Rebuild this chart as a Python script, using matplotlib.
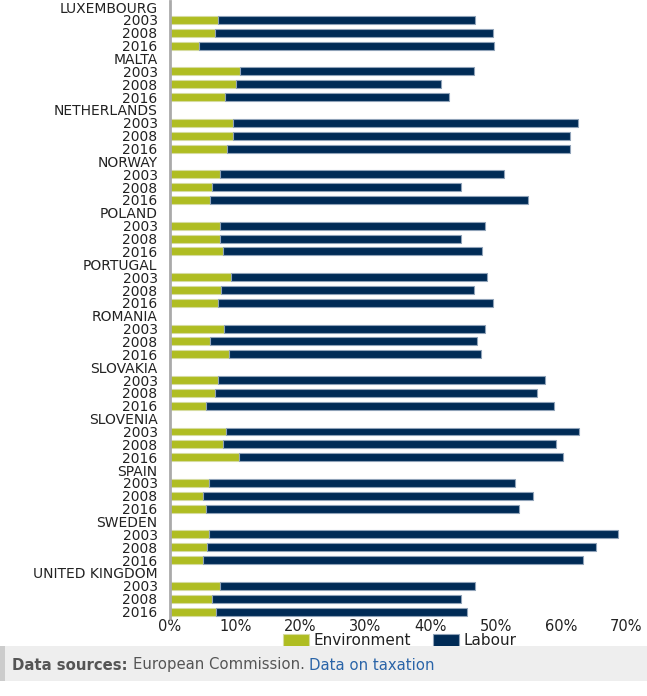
import numpy as np
import matplotlib
matplotlib.use("Agg")
from matplotlib import pyplot as plt
from matplotlib.patches import Rectangle

countries = ['LUXEMBOURG', 'MALTA', 'NETHERLANDS', 'NORWAY', 'POLAND', 'PORTUGAL',
             'ROMANIA', 'SLOVAKIA', 'SLOVENIA', 'SPAIN', 'SWEDEN', 'UNITED KINGDOM']
years = ['2003', '2008', '2016']

# environment share (%) per country, per year
environment = [
    [7.3, 6.9, 4.5],
    [10.8, 10.2, 8.5],
    [9.6, 9.6, 8.7],
    [7.6, 6.4, 6.2],
    [7.6, 7.6, 8.1],
    [9.4, 7.8, 7.4],
    [8.3, 6.2, 9.0],
    [7.3, 6.9, 5.5],
    [8.6, 8.1, 10.6],
    [6.0, 5.0, 5.5],
    [6.0, 5.7, 5.0],
    [7.6, 6.4, 7.1],
]
# total (environment + labour)
total = [
    [46.8, 49.6, 49.8],
    [46.6, 41.6, 42.8],
    [62.6, 61.4, 61.4],
    [51.3, 44.6, 55.0],
    [48.4, 44.6, 47.9],
    [48.6, 46.6, 49.6],
    [48.4, 47.2, 47.7],
    [57.6, 56.4, 59.0],
    [62.8, 59.2, 60.4],
    [52.9, 55.8, 53.6],
    [68.7, 65.4, 63.4],
    [46.8, 44.7, 45.6],
]
labour = (np.array(total) - np.array(environment)).tolist()

env_col = '#afbd22'
lab_col = '#002b56'
txt_col = '#222222'

# build rows: country header, then one row per year
labels = []
env_vals = []
lab_vals = []
for i, c in enumerate(countries):
    labels.append(c)
    env_vals.append(np.nan)
    lab_vals.append(np.nan)
    for j, y in enumerate(years):
        labels.append(y)
        env_vals.append(environment[i][j])
        lab_vals.append(labour[i][j])

pos = np.arange(len(labels))
env_vals = np.array(env_vals)
lab_vals = np.array(lab_vals)
has = ~np.isnan(env_vals)

fig = plt.figure(figsize=(6.47, 6.96), dpi=100)
ax = fig.add_axes([170/647, 1 - 618/696, (639-170)/647, 617.4/696])

ax.barh(pos[has], env_vals[has], height=0.62, color=env_col,
        edgecolor='#d6dca0', linewidth=0.8, label='Environment')
ax.barh(pos[has], lab_vals[has], left=env_vals[has], height=0.62, color=lab_col,
        edgecolor='#8fa2b8', linewidth=0.8, label='Labour')

ax.set_ylim(len(labels) - 0.5, -0.5)
ax.set_xlim(0, 72)
ax.set_yticks(pos)
ax.set_yticklabels(labels, fontsize=10, color=txt_col)
ax.set_xticks(np.arange(0, 71, 10))
ax.set_xticklabels([f'{v}%' for v in range(0, 71, 10)], fontsize=10.5, color=txt_col)
ax.tick_params(axis='both', length=0, pad=1)
ax.tick_params(axis='y', pad=9)
for s in ['top', 'right', 'bottom']:
    ax.spines[s].set_visible(False)
ax.spines['left'].set_color('#aaaaaa')
ax.spines['left'].set_linewidth(2)

leg = ax.legend(loc='upper center', bbox_to_anchor=(0.49, -0.025), ncol=2, frameon=False,
                fontsize=11, handlelength=1.7, handleheight=0.9, columnspacing=1.4,
                handletextpad=0.3, borderaxespad=0, borderpad=0)
for t in leg.get_texts():
    t.set_color(txt_col)

# footer box
fig.patches.append(Rectangle((0, 1 - 681/696), 1, 35/696, transform=fig.transFigure,
                             facecolor='#eeeeee', edgecolor='none', zorder=0))
fig.patches.append(Rectangle((0, 1 - 681/696), 5/647, 35/696, transform=fig.transFigure,
                             facecolor='#cccccc', edgecolor='none', zorder=1))

fig.canvas.draw()
r = fig.canvas.get_renderer()
x0 = 12/647
yb = 1 - 665/696
parts = [('Data sources: ', 'bold', '#555555'),
         ('European Commission. ', 'normal', '#555555'),
         ('Data on taxation', 'normal', '#2a64a8')]
for s, w, c in parts:
    t = fig.text(x0, yb, s, fontsize=10.7, fontweight=w, color=c, va='center', ha='left')
    bb = t.get_window_extent(r)
    x0 = bb.x1 / fig.bbox.width

fig.savefig('out.png', dpi=100)
